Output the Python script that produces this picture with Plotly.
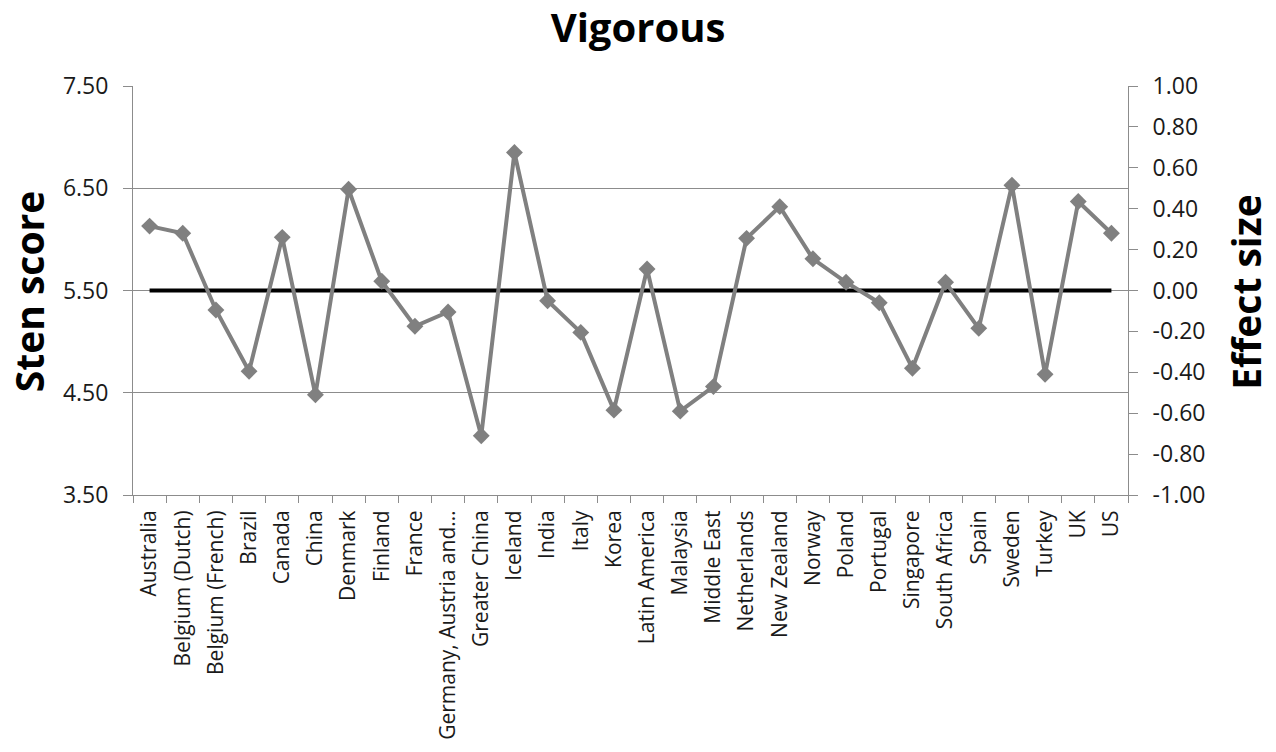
import plotly.graph_objects as go

# Country / region categories along the x axis
countries = [
    "Australia", "Belgium (Dutch)", "Belgium (French)", "Brazil", "Canada",
    "China", "Denmark", "Finland", "France", "Germany, Austria and…",
    "Greater China", "Iceland", "India", "Italy", "Korea", "Latin America",
    "Malaysia", "Middle East", "Netherlands", "New Zealand", "Norway",
    "Poland", "Portugal", "Singapore", "South Africa", "Spain", "Sweden",
    "Turkey", "UK", "US",
]

# Mean sten score for each country
sten_scores = [
    6.13, 6.06, 5.31, 4.71, 6.02, 4.48, 6.49, 5.59, 5.15, 5.29,
    4.08, 6.85, 5.40, 5.09, 4.33, 5.71, 4.32, 4.56, 6.01, 6.32,
    5.81, 5.58, 5.38, 4.74, 5.58, 5.13, 6.53, 4.68, 6.37, 6.06,
]

# Reference (population mean) sten score
reference_sten = 5.5

# Axis tick values
left_ticks = [3.5, 4.5, 5.5, 6.5, 7.5]
right_ticks = [-1.0, -0.8, -0.6, -0.4, -0.2, 0.0, 0.2, 0.4, 0.6, 0.8, 1.0]

FONT = "Open Sans"
GRID = "#8c8c8c"
LINE_GREY = "#808080"
TEXT = "#1a1a1a"

fig = go.Figure()

# Reference line at the population mean
fig.add_trace(go.Scatter(
    x=countries,
    y=[reference_sten] * len(countries),
    mode="lines",
    line=dict(color="black", width=4),
    hoverinfo="skip",
    showlegend=False,
))

# Country scores
fig.add_trace(go.Scatter(
    x=countries,
    y=sten_scores,
    mode="lines+markers",
    line=dict(color=LINE_GREY, width=4),
    marker=dict(symbol="diamond", size=13, color=LINE_GREY),
    showlegend=False,
))

# Invisible trace so the secondary (effect size) axis is rendered
fig.add_trace(go.Scatter(
    x=countries,
    y=[(v - reference_sten) / 2 for v in sten_scores],
    yaxis="y2",
    mode="lines",
    line=dict(width=0),
    opacity=0,
    hoverinfo="skip",
    showlegend=False,
))

# Axis titles, placed as rotated annotations beside the plot area
fig.add_annotation(
    text="<b>Sten score</b>", textangle=-90,
    xref="paper", yref="paper", x=-0.105, y=0.497,
    xanchor="center", yanchor="middle", showarrow=False,
    borderpad=0,
    font=dict(family=FONT, size=39, color="black"),
)
fig.add_annotation(
    text="<b>Effect size</b>", textangle=-90,
    xref="paper", yref="paper", x=1.1186, y=0.497,
    xanchor="center", yanchor="middle", showarrow=False,
    borderpad=0,
    font=dict(family=FONT, size=39, color="black"),
)

fig.update_layout(
    width=1276,
    height=752,
    margin=dict(l=133, r=148, t=86, b=257),
    paper_bgcolor="white",
    plot_bgcolor="white",
    font=dict(family=FONT, color=TEXT),
    title=dict(
        text="<b>Vigorous</b>",
        font=dict(family=FONT, size=40, color="black"),
        x=0.5, xanchor="center",
        y=0.963, yanchor="middle",
    ),
    xaxis=dict(
        type="category",
        tickangle=-90,
        tickfont=dict(family=FONT, size=21, color=TEXT),
        showline=True, linecolor=GRID, linewidth=1,
        ticks="outside", ticklen=7, tickcolor=GRID,
        tickson="boundaries",
        ticklabelstandoff=6,
        showgrid=False,
        automargin=False,
        range=[-0.5, len(countries) - 0.5],
    ),
    yaxis=dict(
        range=[3.5, 7.5],
        tickvals=left_ticks,
        ticktext=[f"{v:.2f}" for v in left_ticks],
        tickfont=dict(family=FONT, size=23, color=TEXT),
        showline=True, linecolor=GRID, linewidth=1,
        ticks="outside", ticklen=9, tickcolor=GRID,
        ticklabelstandoff=10,
        showgrid=True, gridcolor=GRID, gridwidth=1,
        zeroline=False,
        automargin=False,
    ),
    yaxis2=dict(
        overlaying="y",
        side="right",
        range=[-1, 1],
        tickvals=right_ticks,
        ticktext=[f"{v:.2f}".replace("-0.00", "0.00") for v in right_ticks],
        tickfont=dict(family=FONT, size=23, color=TEXT),
        showline=True, linecolor=GRID, linewidth=1,
        ticks="outside", ticklen=9, tickcolor=GRID,
        ticklabelstandoff=10,
        showgrid=False, zeroline=False,
        automargin=False,
    ),
)

fig.write_html("out.html")
